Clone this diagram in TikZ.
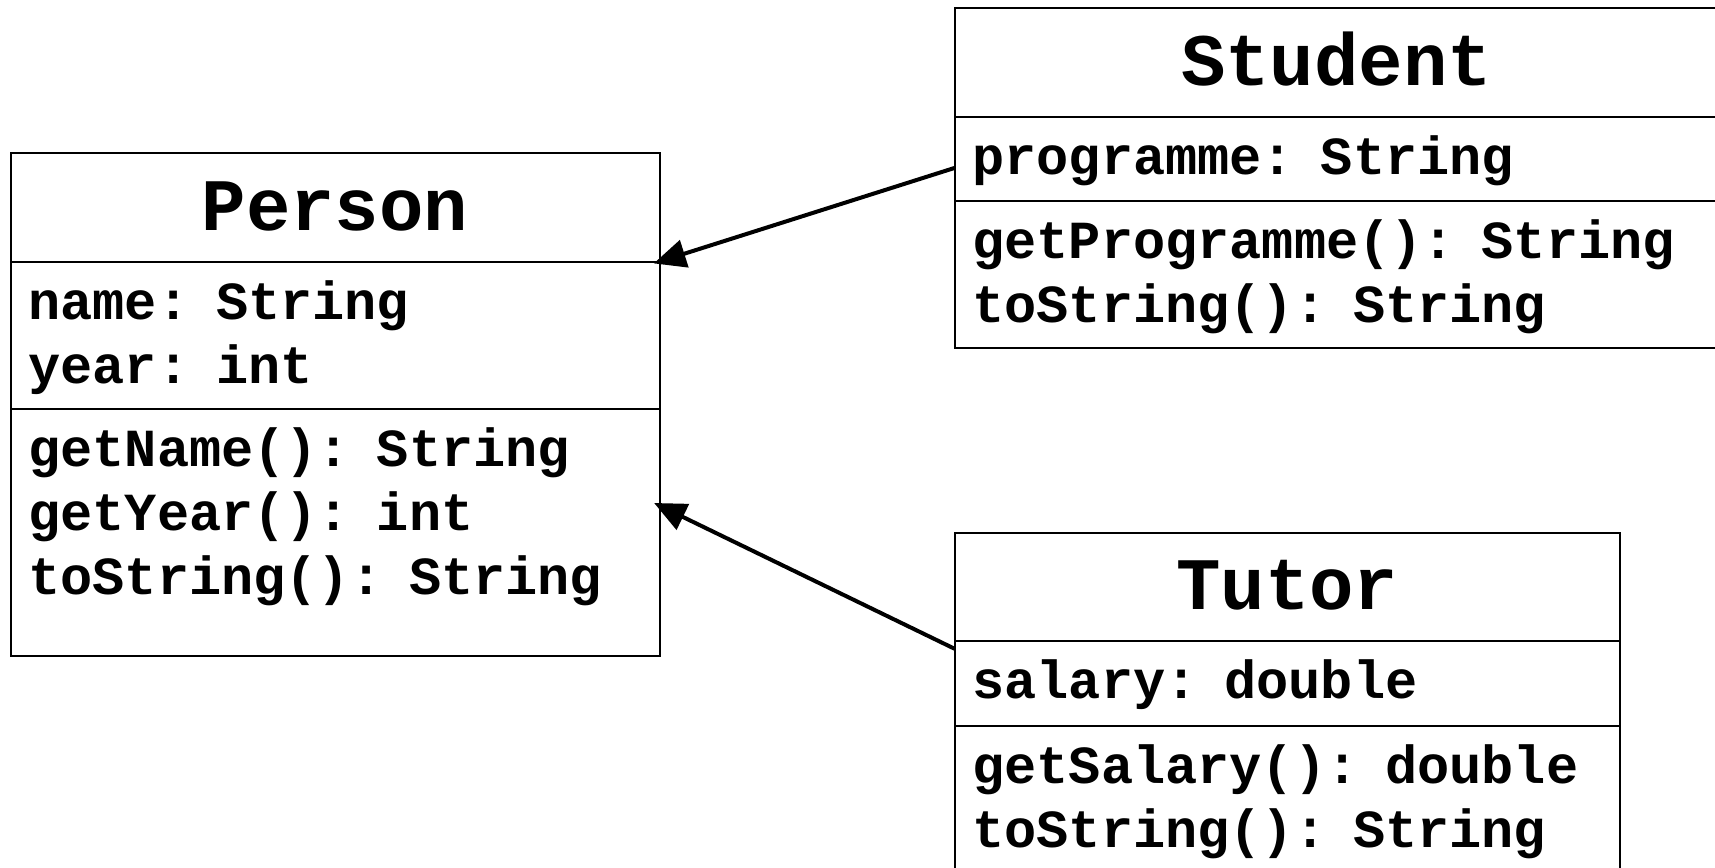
\documentclass[tikz,border=0pt]{standalone}
\usepackage{fontspec}
\setmonofont{Liberation Mono}
\usetikzlibrary{arrows.meta,calc,positioning}
\newcommand{\umltitle}{\ttfamily\bfseries\fontsize{37pt}{40pt}\selectfont}
\newcommand{\umlbody}{\ttfamily\bfseries\fontsize{26.8pt}{32pt}\selectfont}

\begin{document}
\begin{tikzpicture}[>={Triangle[length=16pt,width=14pt]},
  classname/.style={draw,line width=1pt,outer sep=0pt,inner sep=0pt,minimum width=#1,text height=38.5pt,text depth=15.8pt,font=\umltitle},
  members/.style={draw,line width=1pt,outer sep=0pt,inner xsep=9pt,inner ysep=0pt,text width=#1,align=left,text height=28.75pt,font=\umlbody},
  inherit/.style={->,line width=2pt,shorten >=-3pt}]
\useasboundingbox (0,0) rectangle (857.5pt,-434pt);
\node[classname=324.5pt,anchor=north west] (personTitle) at (5.25pt,-76.5pt) {Person};
\node[members=306.5pt,text depth=45.15pt,below=0pt of personTitle] (personAttr) {name: String\\year: int};
\node[members=306.5pt,text depth=94.6pt,below=0pt of personAttr] (personMethods) {getName(): String\\getYear(): int\\toString(): String};
\node[classname=382pt,anchor=north west] (studentTitle) at (477.25pt,-4.15pt) {Student};
\node[members=364pt,text depth=13.1pt,below=0pt of studentTitle] (studentAttr) {programme: String};
\node[members=364pt,text depth=44.9pt,below=0pt of studentAttr] (studentMethods) {getProgramme(): String\\toString(): String};
\node[classname=332.75pt,anchor=north west] (tutorTitle) at (477.25pt,-266.25pt) {Tutor};
\node[members=314.75pt,text depth=13.6pt,below=0pt of tutorTitle] (tutorAttr) {salary: double};
\node[members=314.75pt,text depth=44.9pt,below=0pt of tutorAttr] (tutorMethods) {getSalary(): double\\toString(): String};
\draw[inherit] ($(studentAttr.north west)!0.61!(studentAttr.south west)$) -- (personTitle.south east);
\draw[inherit] ($(tutorAttr.north west)!0.09!(tutorAttr.south west)$) -- ($(personMethods.north east)!0.39!(personMethods.south east)$);
\end{tikzpicture}
\end{document}
